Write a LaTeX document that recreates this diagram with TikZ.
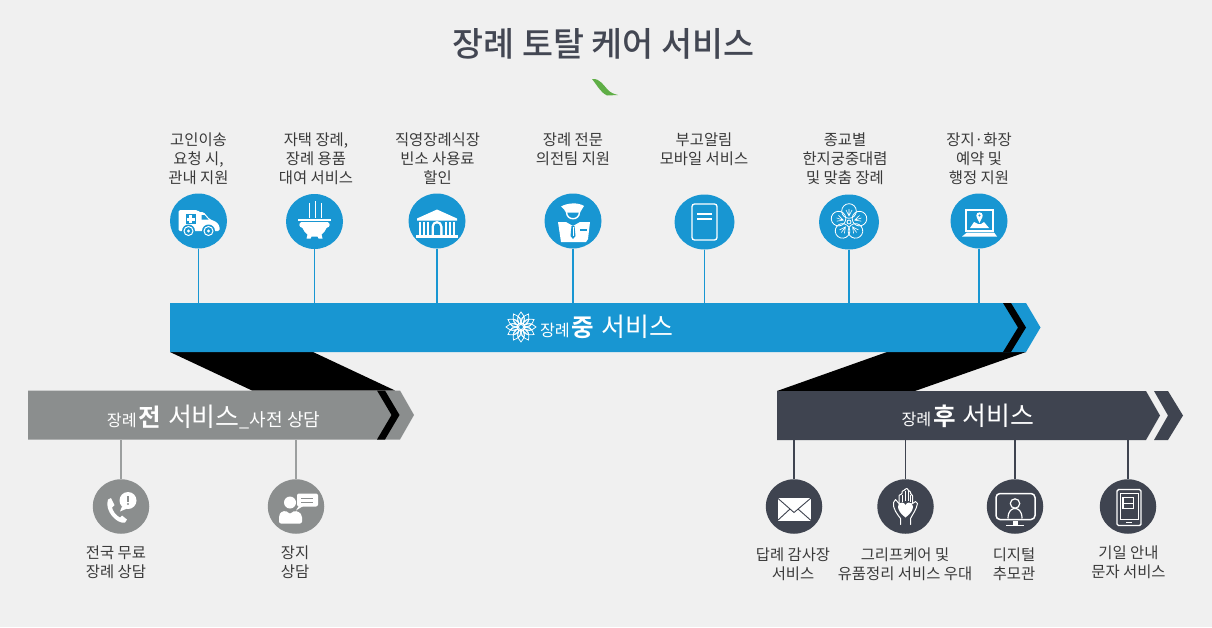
\documentclass[tikz,border=0pt]{standalone}
\usepackage{fontspec}
\setmainfont{Noto Sans CJK KR}
\newfontfamily\krmed{Noto Sans CJK KR Medium}
\newfontfamily\krbold{Noto Sans CJK KR Bold}
\usetikzlibrary{calc,shapes.geometric}
\definecolor{bgc}{HTML}{F0F0F0}
\definecolor{bluec}{HTML}{1896D2}
\definecolor{greyc}{HTML}{8B8E8E}
\definecolor{darkc}{HTML}{3F4450}
\definecolor{txtc}{HTML}{3A3A3A}
\definecolor{titlec}{HTML}{434753}
\definecolor{leafc}{HTML}{5FAE46}
\newcommand{\fs}[2]{\fontsize{#1}{#2}\selectfont}
\tikzset{
  x=1pt,y=-1pt,
  lab/.style={text=txtc,align=center,inner sep=0pt,font=\fs{15.4}{19}},
  bcirc/.style={ellipse,fill=bluec,inner sep=0pt,minimum width=#1,minimum height=55},
  gcirc/.style={ellipse,fill=greyc,inner sep=0pt,minimum width=56.5,minimum height=54.5},
  dcirc/.style={ellipse,fill=darkc,inner sep=0pt,minimum width=56.5,minimum height=54.5},
  barbox/.style={inner sep=0pt,outer sep=0pt,anchor=north west},
  blink/.style={draw=bluec,line width=1.1pt},
  glink/.style={draw=greyc!85!white,line width=1.1pt},
  dlink/.style={draw=darkc,line width=1.1pt},
  bartext/.style={text=white,inner sep=0pt,anchor=base},
}
\begin{document}
\begin{tikzpicture}
\useasboundingbox[fill=bgc] (0,0) rectangle (1212,627);

% title
\node[text=titlec,inner sep=0pt,anchor=base,font=\krmed\fs{33.7}{36}] (title) at (603.5,56) {장례 토탈 케어 서비스};
\fill[leafc] (592,79) .. controls (600,78) and (604,86) .. (608,90) .. controls (611,93) and (614,94) .. (618,95) -- (607,95.5) .. controls (600,92) and (597,85) .. (592,79) -- cycle;

% black links between bars
\fill[black] (170,352) -- (313,352) -- (395,390.5) -- (252,390.5) -- cycle;
\fill[black] (887,352) -- (1026,352) -- (915,391) -- (777,391) -- cycle;

% bars
\node[barbox,minimum width=833,minimum height=49] (midbar) at (170,303) {};
\fill[bluec] (170,303) -- (1026,303) -- (1040.5,327.5) -- (1026,352) -- (170,352) -- cycle;
\fill[black] (1003,303) -- (1011,303) -- (1026,327.5) -- (1011,352) -- (1003,352) -- (1018,327.5) -- cycle;

\node[barbox,minimum width=349,minimum height=49] (prebar) at (28,390.5) {};
\fill[greyc] (28,390.5) -- (400,390.5) -- (414,415) -- (400,439.5) -- (28,439.5) -- cycle;
\fill[black] (377,390.5) -- (385,390.5) -- (399.5,415) -- (385,439.5) -- (377,439.5) -- (391.5,415) -- cycle;

\node[barbox,minimum width=369,minimum height=49] (postbar) at (777,391) {};
\fill[darkc] (777,391) -- (1146,391) -- (1160,415.5) -- (1146,440) -- (777,440) -- cycle;
\fill[darkc] (1154,391) -- (1168,391) -- (1183,415.5) -- (1168,440) -- (1154,440) -- (1168,415.5) -- cycle;

% bar texts
\node[bartext] (midtxt) at (606.5,336.5) {{\fs{16.2}{18}장례}\kern2pt{\krbold\fs{24.5}{28}중}\kern1pt{\fs{26}{28} 서비스}};
\node[bartext] (pretxt) at (213.5,426.5) {{\fs{16.2}{18}장례}\kern2pt{\krbold\fs{24.5}{28}전}\kern1pt{\fs{26}{28} 서비스}{\fs{18}{20}\_사전 상담}};
\node[bartext] (posttxt) at (968,425) {{\fs{16.2}{18}장례}\kern2pt{\krbold\fs{24.5}{28}후}\kern1pt{\fs{26}{28} 서비스}};

% bar flower
\begin{scope}[shift={(521,327)}]
  \foreach \a in {0,30,...,330}{
    \draw[white,line width=.75pt,rotate=\a] (0,-2) .. controls (4.5,-5) and (4,-11) .. (0,-15) .. controls (-4,-11) and (-4.5,-5) .. (0,-2);
    \draw[white,line width=.6pt,rotate=\a+15] (0,-3) .. controls (2.5,-5) and (2.5,-8) .. (0,-11) .. controls (-2.5,-8) and (-2.5,-5) .. (0,-3);
  }
\end{scope}

% circles, top row
\node[bcirc=57] (c1) at (198.5,221) {};
\node[bcirc=57] (c2) at (314.5,221.5) {};
\node[bcirc=57] (c3) at (437,221) {};
\node[bcirc=57] (c4) at (573,221) {};
\node[bcirc=60] (c5) at (704.5,222) {};
\node[bcirc=60] (c6) at (849,222) {};
\node[bcirc=57] (c7) at (979,221) {};
\foreach \c in {c1,c2,c3,c4,c5,c6,c7}{
  \draw[blink] (\c.south) -- (\c.south |- midbar.north);
}
% circles, bottom row
\node[gcirc] (g1) at (121,506.5) {};
\node[gcirc] (g2) at (296,506.5) {};
\node[dcirc] (d1) at (794,506.5) {};
\node[dcirc] (d2) at (905.5,506.5) {};
\node[dcirc] (d3) at (1015,506.5) {};
\node[dcirc] (d4) at (1128,506.5) {};
\foreach \c in {g1,g2}{
  \draw[glink] (\c.north) -- (\c.north |- prebar.south);
}
\foreach \c in {d1,d2,d3,d4}{
  \draw[dlink] (\c.north) -- (\c.north |- postbar.south);
}

% labels
\node[lab] (l1) at (198.5,158.5) {고인이송\\요청 시,\\관내 지원};
\node[lab] (l2) at (316,158.5) {자택 장례,\\장례 용품\\대여 서비스};
\node[lab] (l3) at (437.5,158.5) {직영장례식장\\빈소 사용료\\할인};
\node[lab] (l4) at (573,149) {장례 전문\\의전팀 지원};
\node[lab] (l5) at (704,149) {부고알림\\모바일 서비스};
\node[lab] (l6) at (845,158.5) {종교별\\한지궁중대렴\\및 맞춤 장례};
\node[lab] (l7) at (979,158.5) {장지·화장\\예약 및\\행정 지원};
\node[lab] (l8) at (116,562) {전국 무료\\장례 상담};
\node[lab] (l9) at (295,562) {장지\\상담};
\node[lab] (l10) at (793,564) {답례 감사장\\서비스};
\node[lab] (l11) at (905,564) {그리프케어 및\\유품정리 서비스 우대};
\node[lab] (l12) at (1014,564) {디지털\\추모관};
\node[lab] (l13) at (1128.5,562) {기일 안내\\문자 서비스};

% ambulance
\begin{scope}[shift={(198.5,221)}]
  \fill[white,rounded corners=1.5pt] (-20,-11) -- (-1,-11) -- (0,-9) -- (5,-9) -- (11,-2) -- (18,1) -- (21,5) -- (21,10) -- (-20,10) -- cycle;
  \fill[bluec] (3,-6) -- (6,-6) -- (10,-1.5) -- (3,-1.5) -- cycle;
  \fill[bluec] (-13,-7) rectangle (-3,3);
  \fill[white] (-9.5,-6) rectangle (-6.5,2);
  \fill[white] (-12,-3.5) rectangle (-4,-.5);
  \foreach \x in {-10,10}{
    \fill[bluec] (\x,10) circle (6.5);
    \draw[white,line width=1pt] (\x,10) circle (4.5);
    \fill[white] (\x,10) circle (1.6);
  }
\end{scope}

% censer
\begin{scope}[shift={(314.5,222)}]
  \draw[white,line width=1pt] (-5.5,-19) -- (-5.5,-4) (.5,-21) -- (.5,-4) (6.5,-19) -- (6.5,-4);
  \fill[white] (-17,-3.5) rectangle (16,-1.5);
  \fill[white] (-13,0) -- (13,0) .. controls (16,1) and (16,5) .. (12,6) .. controls (11,9) and (9,11) .. (7,12.5) -- (8,16.5) -- (4,16.5) -- (3,14.5) -- (-3,14.5) -- (-4,16.5) -- (-8,16.5) -- (-7,12.5) .. controls (-9,11) and (-11,9) .. (-12,6) .. controls (-16,5) and (-16,1) .. (-13,0) -- cycle;
\end{scope}

% temple
\begin{scope}[shift={(437,221)}]
  \fill[white] (0,-11.5) -- (20,-2.5) -- (20,-.5) -- (-20,-.5) -- (-20,-2.5) -- cycle;
  \foreach \x in {-17,-13,-9,9,13,17}{
    \fill[white] (\x-1.3,1) rectangle (\x+1.3,14);
  }
  \fill[white] (-5.5,14) -- (-5.5,5.5) arc[start angle=180,end angle=360,radius=5.5] -- (5.5,14) -- cycle;
  \fill[bluec] (-3,14) -- (-3,5.5) arc[start angle=180,end angle=360,radius=3] -- (3,14) -- cycle;
  \fill[white] (-21,14) rectangle (21,16.5);
\end{scope}

% officer
\begin{scope}[shift={(573,221)}]
  \fill[white] (-15,1) -- (-7,1) -- (0,5) -- (7,1) -- (17,1) -- (15,18) -- (13,21) -- (-12,21) -- cycle;
  \fill[bluec] (-1.5,5) -- (1.5,5) -- (2.5,15) -- (0,18) -- (-2.5,15) -- cycle;
  \draw[white,line width=.7pt] (0,6) -- (0,15);
  \fill[bluec] (7,8) rectangle (14,9.5);
  \draw[white,line width=1.4pt] (-6.5,-9) .. controls (-6.5,0) and (6.5,0) .. (6.5,-9);
  \fill[white] (-12,-14.5) .. controls (-6,-18) and (5,-19) .. (11,-15) .. controls (9,-12) and (8,-10) .. (7,-8.5) -- (-7,-8.5) .. controls (-8,-11) and (-10,-13) .. (-12,-14.5) -- cycle;
\end{scope}

% mobile
\begin{scope}[shift={(704.5,222)}]
  \draw[white,line width=1.3pt,rounded corners=2.5pt] (-12.5,-18) rectangle (12.5,18);
  \draw[white,line width=1.1pt] (-7.5,-8) -- (7.5,-8) (-7.5,-3) -- (7.5,-3);
\end{scope}

% flower
\begin{scope}[shift={(849,222)}]
  \foreach \a in {0,72,144,216,288}{
    \begin{scope}[rotate=\a]
      \draw[white,line width=.8pt] (0,-11) circle (7.3);
      \draw[white,line width=.6pt] (-3,-12) -- (0,-6) -- (3,-12) (0,-6) -- (0,-13);
    \end{scope}
  }
  \foreach \a in {0,72,144,216,288}{
    \fill[bluec,rotate=\a] (0,-3.5) -- (2,-1.5) -- (-2,-1.5) -- cycle;
  }
  \draw[white,line width=.8pt] (0,0) circle (2);
\end{scope}

% laptop
\begin{scope}[shift={(979,221)}]
  \draw[white,line width=1.3pt] (-13,-11) rectangle (14,10);
  \fill[white] (-9,7) -- (-5,1) -- (-1,3) -- (2,3) -- (5,1) -- (10,7) -- cycle;
  \fill[white] (0.5,-5.5) circle (3.2);
  \fill[white] (-2.6,-4.5) -- (3.6,-4.5) -- (0.5,2) -- cycle;
  \fill[bluec] (0.5,-5.5) circle (1.2);
  \fill[white] (-12,11.5) -- (15,11.5) -- (18,15.5) -- (-17,15.5) -- cycle;
\end{scope}

% handset + bubble
\begin{scope}[shift={(121,506.5)}]
  \fill[white] (-13,-7) -- (-10,-8.5) -- (-6.5,-1.5) -- (-9,1) .. controls (-8,5) and (-5,9) .. (-1,11) -- (1,9) -- (6,13) -- (4,16) .. controls (-4,18) and (-17,4) .. (-13,-7) -- cycle;
  \fill[white] (7,-6) circle (8.5);
  \fill[white] (1,0) -- (-1,5) -- (6,2) -- cycle;
  \fill[greyc] (6,-10.5) rectangle (8,-5);
  \fill[greyc] (7,-2.5) circle (1.1);
\end{scope}

% person + speech
\begin{scope}[shift={(296,506.5)}]
  \fill[white] (-6,-4) circle (6);
  \fill[white,rounded corners=2pt] (-17,17) -- (-17,9) .. controls (-15,5) and (-10,3) .. (-6,8) .. controls (-2,3) and (3,5) .. (6,9) -- (6,17) -- cycle;
  \fill[white,rounded corners=2pt] (1,-13) rectangle (22,0);
  \fill[white] (3,-1) -- (0,4) -- (8,-1) -- cycle;
  \draw[greyc,line width=1pt] (5,-8.5) -- (17,-8.5) (5,-4.5) -- (17,-4.5);
\end{scope}

% envelope
\begin{scope}[shift={(794,506.5)}]
  \fill[white] (-16.5,-8.5) rectangle (17,14);
  \draw[darkc,line width=.9pt] (-16.5,-8.5) -- (0,6) -- (17,-8.5) (-16.5,14) -- (-4,2.5) (17,14) -- (4,2.5);
\end{scope}

% hands + heart
\begin{scope}[shift={(905.5,506.5)}]
  \draw[white,line width=1pt,line join=round,line cap=round,rounded corners=1.2pt]
    (-6.5,-1) -- (-6.5,-12) -- (-3.5,-12) -- (-3.5,-16) -- (-.5,-16) -- (-.5,-18) -- (2.5,-18) -- (2.5,-15.5) -- (5,-15.5) -- (5,-12) -- (7,-12) -- (7,-3);
  \draw[white,line width=1pt] (-3.5,-12) -- (-3.5,-5) (-.5,-16) -- (-.5,-6) (2.5,-15.5) -- (2.5,-6) (5,-12) -- (5,-5);
  \draw[white,line width=1pt,line join=round,line cap=round]
    (-6.5,-3) -- (-10,-7) -- (-12,-4) .. controls (-13,2) and (-8,8) .. (-5,12) -- (-5,18)
    (7,-3) -- (10,-5) -- (12,-3) .. controls (11,3) and (7,8) .. (5,12) -- (5,18);
  \fill[white] (0,11) .. controls (-11,3) and (-8,-5) .. (-3,-4) .. controls (-1,-3.5) and (0,-2) .. (0,-1) .. controls (0,-2) and (1,-3.5) .. (3,-4) .. controls (8,-5) and (11,3) .. (0,11) -- cycle;
\end{scope}

% monitor
\begin{scope}[shift={(1015,506.5)}]
  \draw[white,line width=1.5pt,rounded corners=4pt] (-19,-13) rectangle (20,13);
  \draw[white,line width=1.2pt] (0,-3) circle (4.7);
  \draw[white,line width=1.2pt] (-7,12) .. controls (-7,4) and (-3,2) .. (0,2) .. controls (3,2) and (7,4) .. (7,12);
  \fill[white] (-2.5,14) rectangle (2.5,18);
  \fill[white] (-9,18) rectangle (9,19.5);
\end{scope}

% tablet
\begin{scope}[shift={(1128,506.5)}]
  \draw[white,line width=1.4pt,rounded corners=1.5pt] (-11,-17) rectangle (13,19);
  \draw[white,line width=1pt] (-8,-13) rectangle (10,13);
  \draw[white,line width=1.2pt] (-5,-9) rectangle (5.5,2);
  \draw[white,line width=1pt] (-5,-3.5) -- (5.5,-3.5);
  \fill[white] (-2,15) rectangle (4,16.5);
\end{scope}
\end{tikzpicture}
\end{document}
